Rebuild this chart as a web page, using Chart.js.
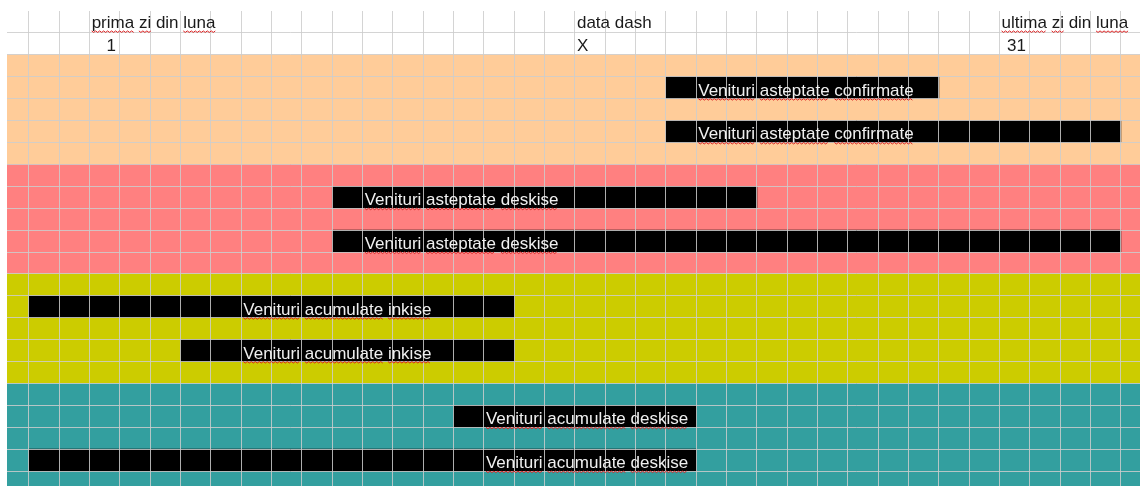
<!DOCTYPE html>
<html>
<head>
<meta charset="utf-8">
<script src="https://cdn.jsdelivr.net/npm/chart.js@4.4.0/dist/chart.umd.min.js"></script>
<style>
    html, body { margin: 0; padding: 0; background: #fff; overflow: hidden; }
    #wrap { position: relative; width: 1140px; height: 493px; }
</style>
</head>
<body>
<div id="wrap"><canvas id="sheet"></canvas></div>
<script>
// ---- data (day columns: day d fills the cell [d, d+1]) ----
const categories = [
    'Venituri asteptate confirmate', 'Venituri asteptate confirmate',
    'Venituri asteptate deskise', 'Venituri asteptate deskise',
    'Venituri acumulate inkise', 'Venituri acumulate inkise',
    'Venituri acumulate deskise', 'Venituri acumulate deskise'
];
const barRows = [3, 5, 8, 10, 13, 15, 18, 20];
const startDays = [20, 20, 9, 9, -1, 4, 13, -1];
const endDays = [29, 35, 23, 35, 15, 15, 21, 21];
const labelDays = [21, 21, 10, 10, 6, 6, 14, 14];

const markerDays = [1, 17, 31];
const markerTitles = ['prima zi din luna', 'data dash', 'ultima zi din luna'];
const markerValues = ['1', 'X', '31'];

const bandColors = ['#ffcc99', '#ff8080', '#cccc00', '#339f9f'];
const bandFirstRows = [2, 7, 12, 17];
const bandLastRows = [6, 11, 16, 21];

const rowCount = 22;
const dayMin = -1.725;
const dayMax = 35.63;

// words the spell checker did not flag
const knownWords = ['din', 'data', 'dash', 'X'];

const FONT = '17px "Liberation Sans", Arial, sans-serif';
const GRID = 'rgba(205, 205, 205, 0.85)';

// ---- build the datasets ----
const rowLabels = [];
for (let r = 0; r < rowCount; r++) rowLabels.push(String(r + 1));

const bandData = new Array(rowCount).fill(null);
const bandFill = new Array(rowCount).fill('transparent');
bandColors.forEach((c, b) => {
    for (let r = bandFirstRows[b]; r <= bandLastRows[b]; r++) {
        bandData[r] = [dayMin - 1, dayMax + 1];
        bandFill[r] = c;
    }
});

const barData = new Array(rowCount).fill(null);
barRows.forEach((r, i) => { barData[r] = [startDays[i], endDays[i]]; });

// red squiggle under flagged words
function drawWords(ctx, text, x, y) {
    ctx.fillText(text, x, y);
    let cx = x;
    text.split(' ').forEach((w) => {
        const ww = ctx.measureText(w).width;
        if (knownWords.indexOf(w) < 0 && isNaN(Number(w))) {
            ctx.save();
            ctx.strokeStyle = '#d22';
            ctx.lineWidth = 1;
            ctx.beginPath();
            for (let k = 0; k <= ww; k += 2) {
                const yy = y + 3 + ((k / 2) % 2 ? 1.5 : 0);
                if (k === 0) ctx.moveTo(cx + k, yy); else ctx.lineTo(cx + k, yy);
            }
            ctx.stroke();
            ctx.restore();
        }
        cx += ww + ctx.measureText(' ').width;
    });
}

const cellText = {
    id: 'cellText',
    afterDraw(chart) {
        const ctx = chart.ctx;
        const xs = chart.scales.x;
        const meta = chart.getDatasetMeta(0);
        ctx.save();
        ctx.font = FONT;
        ctx.textBaseline = 'alphabetic';

        // labels inside the black bars
        ctx.fillStyle = '#f0f0f0';
        ctx.textAlign = 'left';
        barRows.forEach((r, i) => {
            const el = meta.data[r];
            const y = el.y + el.height / 2 - 3;
            drawWords(ctx, categories[i], xs.getPixelForValue(labelDays[i]) + 2, y);
        });

        // header rows
        const rowH = chart.scales.y.height / rowCount;
        const top = chart.chartArea.top;
        ctx.fillStyle = '#1a1a1a';
        markerDays.forEach((d, i) => {
            const left = xs.getPixelForValue(d);
            ctx.textAlign = 'left';
            drawWords(ctx, markerTitles[i], left + 2, top + rowH - 5);
            const v = markerValues[i];
            if (isNaN(Number(v))) {
                ctx.fillText(v, left + 2, top + rowH * 2 - 4);
            } else {
                ctx.textAlign = 'right';
                ctx.fillText(v, xs.getPixelForValue(d + 1) - 4, top + rowH * 2 - 4);
            }
        });
        ctx.restore();
    }
};

new Chart(document.getElementById('sheet'), {
    type: 'bar',
    data: {
        labels: rowLabels,
        datasets: [
            {
                data: barData,
                backgroundColor: '#000000',
                borderWidth: 0,
                barPercentage: 1,
                categoryPercentage: 1,
                grouped: false,
                order: 0
            },
            {
                data: bandData,
                backgroundColor: bandFill,
                borderWidth: 0,
                barPercentage: 1,
                categoryPercentage: 1,
                grouped: false,
                order: 1
            }
        ]
    },
    options: {
        indexAxis: 'y',
        responsive: true,
        maintainAspectRatio: false,
        animation: false,
        layout: { padding: { left: 7, top: 11, right: 0, bottom: 0 } },
        plugins: {
            legend: { display: false },
            tooltip: { enabled: false }
        },
        scales: {
            x: {
                type: 'linear',
                min: dayMin,
                max: dayMax,
                ticks: { display: false, stepSize: 1, includeBounds: false },
                border: { display: false },
                grid: {
                    z: 1,
                    drawTicks: false,
                    color: (c) => {
                        const v = c.tick ? c.tick.value : 0.5;
                        return Math.abs(v - Math.round(v)) < 1e-6 ? GRID : 'transparent';
                    }
                }
            },
            y: {
                ticks: { display: false },
                border: { display: false },
                grid: {
                    z: 1,
                    drawTicks: false,
                    color: (c) => c.index === 0 ? 'transparent' : GRID
                }
            }
        }
    },
    plugins: [cellText]
});
</script>
</body>
</html>
